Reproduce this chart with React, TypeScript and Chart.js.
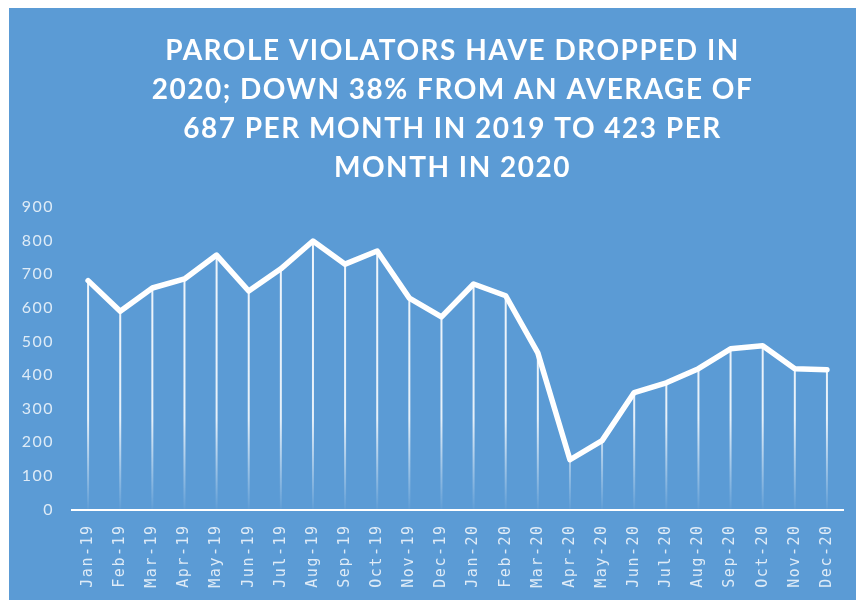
import React, { useEffect, useRef } from "react";
import { Chart, registerables } from "chart.js";

Chart.register(...registerables);

const months: string[] = [
  "Jan-19", "Feb-19", "Mar-19", "Apr-19", "May-19", "Jun-19",
  "Jul-19", "Aug-19", "Sep-19", "Oct-19", "Nov-19", "Dec-19",
  "Jan-20", "Feb-20", "Mar-20", "Apr-20", "May-20", "Jun-20",
  "Jul-20", "Aug-20", "Sep-20", "Oct-20", "Nov-20", "Dec-20",
];

const paroleViolators: number[] = [
  681, 590, 659, 686, 757, 650, 716, 799, 730, 769, 629, 573,
  671, 636, 466, 148, 205, 348, 377, 419, 478, 487, 419, 416,
];

const titleLines: string[] = [
  "PAROLE VIOLATORS HAVE DROPPED IN",
  "2020; DOWN 38% FROM AN AVERAGE OF",
  "687 PER MONTH IN 2019 TO 423 PER",
  "MONTH IN 2020",
];

const yMin = 0;
const yMax = 900;
const yStep = 100;

const BG = "#5B9BD5";
const TICK_COLOR = "rgba(255,255,255,0.8)";

const spacingPlugin = {
  id: "letterSpacing",
  beforeLayout(chart: any) {
    chart.ctx.letterSpacing = "1.5px";
  },
  afterLayout(chart: any) {
    // centre the title over the plot like the reference
    const t = chart.titleBlock;
    const ca = chart.chartArea;
    if (t && ca) {
      const shift = (ca.left + ca.right) / 2 - 5 - (t.left + t.right) / 2;
      t.left += shift;
      t.right += shift;
    }
  },
  beforeDraw(chart: any) {
    chart.ctx.letterSpacing = "1.5px";
  },
};

const dropLinesPlugin = {
  id: "dropLines",
  beforeDatasetsDraw(chart: any) {
    const { ctx, chartArea } = chart;
    const meta = chart.getDatasetMeta(0);
    const base = chart.scales.y.getPixelForValue(0);
    const grad = ctx.createLinearGradient(0, chartArea.top, 0, base);
    grad.addColorStop(0, "rgba(255,255,255,0.92)");
    grad.addColorStop(0.7, "rgba(255,255,255,0.85)");
    grad.addColorStop(1, "rgba(255,255,255,0.03)");
    ctx.save();
    ctx.strokeStyle = grad;
    ctx.lineWidth = 2;
    meta.data.forEach((pt: any) => {
      ctx.beginPath();
      ctx.moveTo(pt.x, pt.y);
      ctx.lineTo(pt.x, base);
      ctx.stroke();
    });
    ctx.restore();
  },
};

export default function App() {
  const canvasRef = useRef<HTMLCanvasElement | null>(null);

  useEffect(() => {
    if (!canvasRef.current) return;
    const chart = new Chart(canvasRef.current, {
      type: "line",
      data: {
        labels: months,
        datasets: [
          {
            label: "Parole violators",
            data: paroleViolators,
            borderColor: "#FFFFFF",
            borderWidth: 5.5,
            borderCapStyle: "round",
            borderJoinStyle: "round",
            pointRadius: 0,
            pointHoverRadius: 0,
            tension: 0,
            fill: false,
          },
        ],
      },
      options: {
        animation: false,
        responsive: true,
        maintainAspectRatio: false,
        layout: {
          padding: { left: -5.3, right: 13, top: 0, bottom: 0 },
        },
        plugins: {
          legend: { display: false },
          tooltip: { enabled: false },
          title: {
            display: true,
            text: titleLines,
            color: "#FFFFFF",
            font: { family: "Lato", size: 28, weight: "bold", lineHeight: 1.393 },
            padding: { top: 23.5, bottom: 19.5 },
          },
        },
        scales: {
          x: {
            type: "category",
            offset: true,
            grid: { display: false, drawTicks: false },
            border: { display: true, color: "#FFFFFF", width: 2 },
            ticks: {
              color: TICK_COLOR,
              font: { family: "DejaVu Sans Mono", size: 15 },
              minRotation: 90,
              maxRotation: 90,
              autoSkip: false,
              padding: 15,
            },
            afterFit: (s: any) => {
              s.height = 90.5;
              s.paddingLeft = 0;
              s.paddingRight = 0;
            },
          },
          y: {
            min: yMin,
            max: yMax,
            grid: { display: false, drawTicks: false },
            border: { display: false },
            ticks: {
              stepSize: yStep,
              color: TICK_COLOR,
              font: { family: "Lato", size: 16 },
              padding: 18,
            },
          },
        },
      },
      plugins: [spacingPlugin, dropLinesPlugin],
    });
    return () => chart.destroy();
  }, []);

  return (
    <div
      style={{
        position: "absolute",
        left: 9,
        top: 8,
        width: 847,
        height: 592,
        background: BG,
      }}
    >
      <canvas ref={canvasRef} />
    </div>
  );
}
